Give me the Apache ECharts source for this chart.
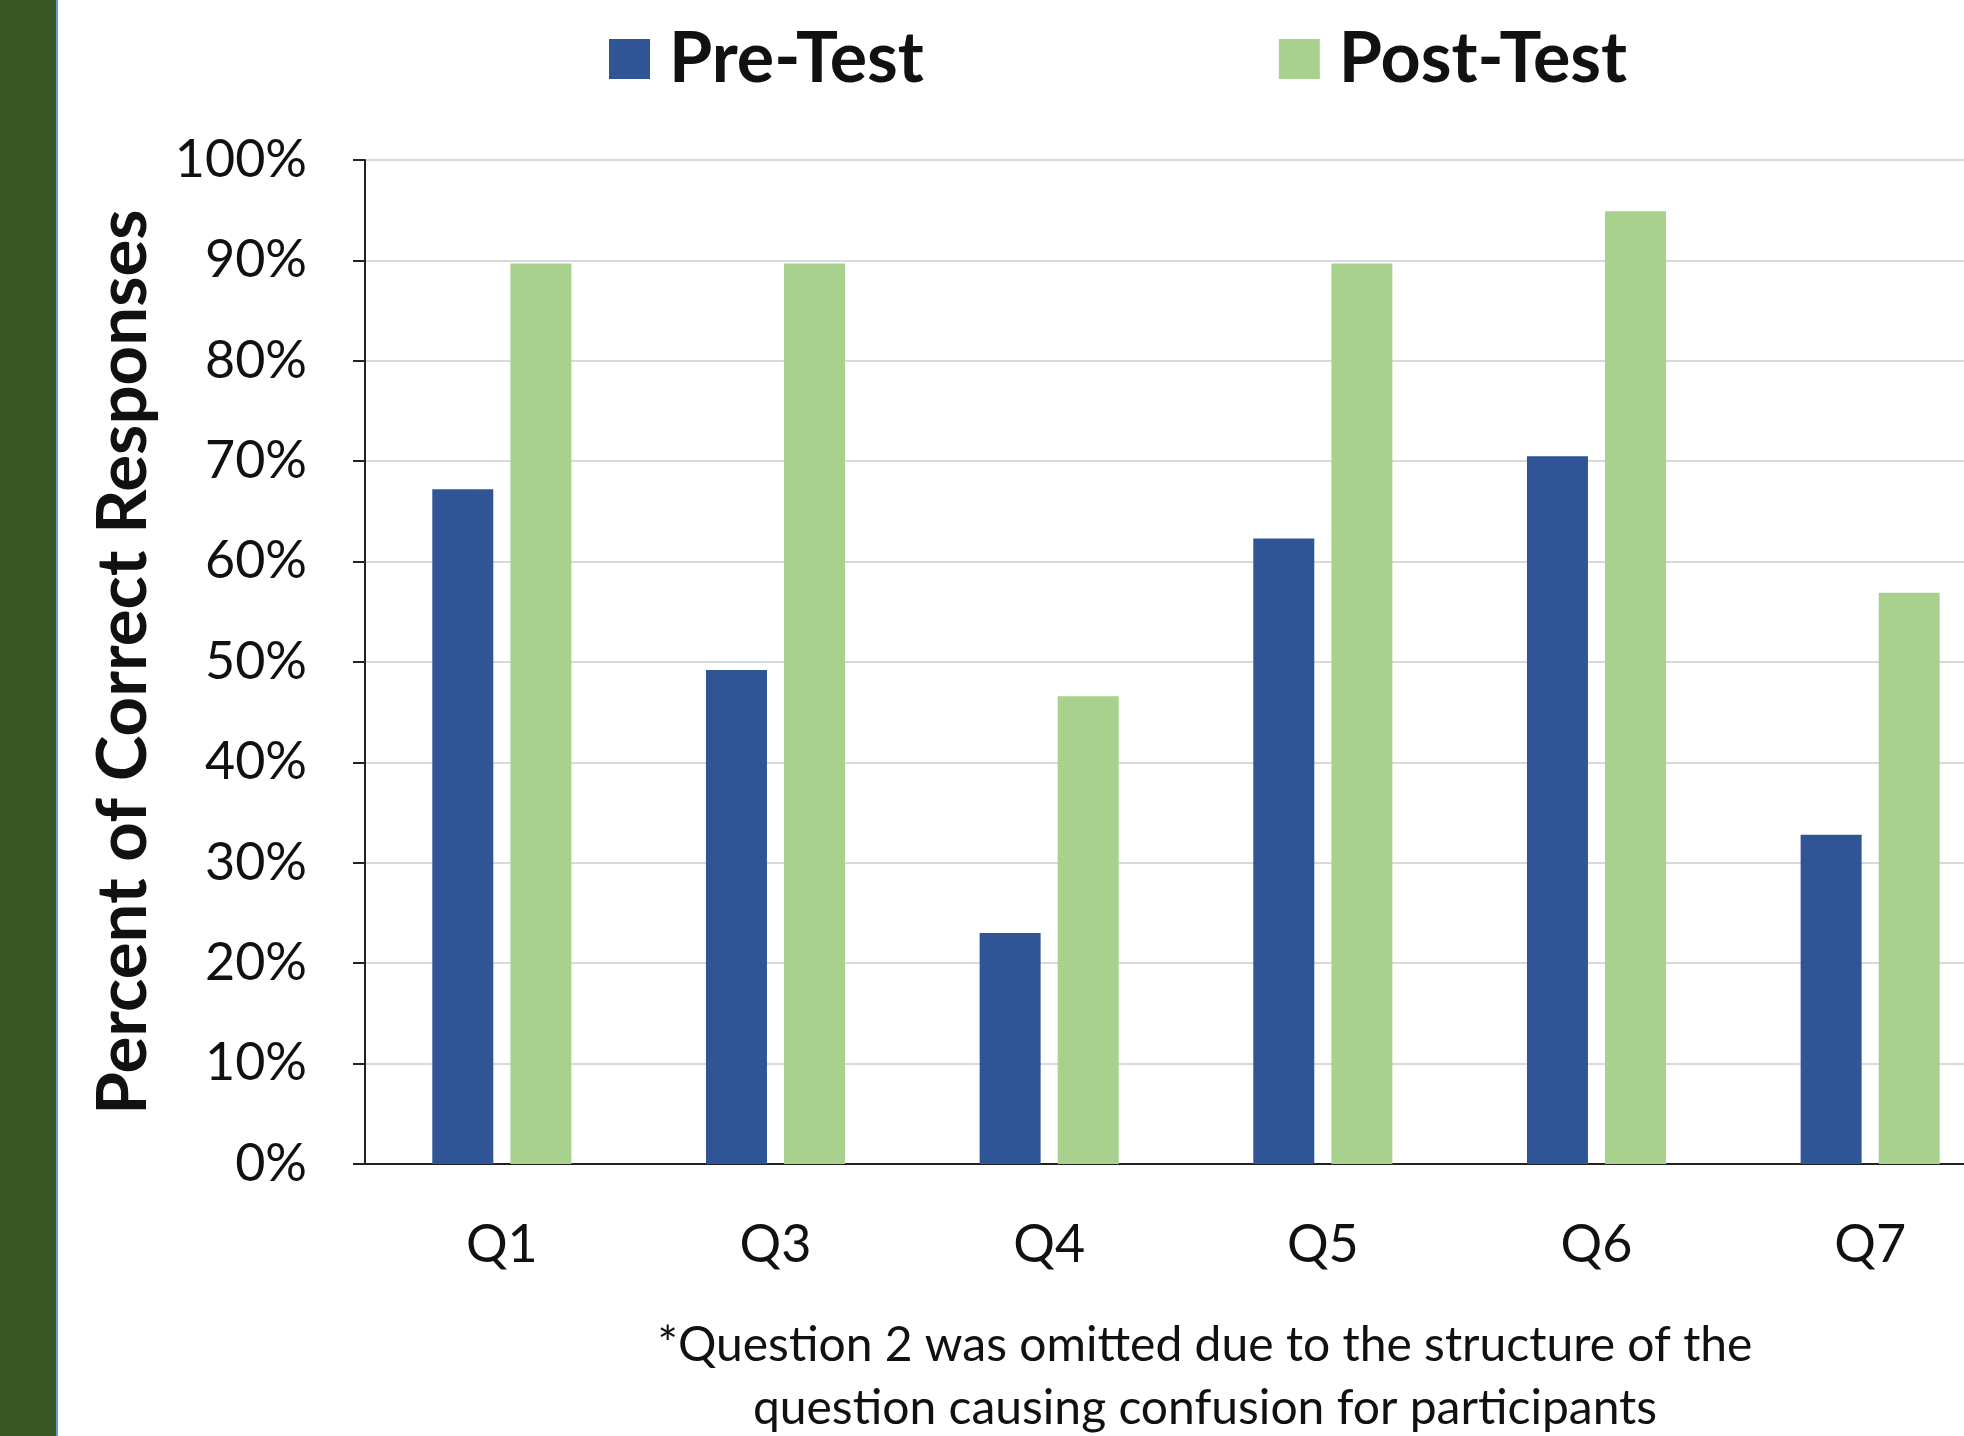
<!DOCTYPE html>
<html>
<head>
<meta charset="utf-8">
<style>
  html, body { margin: 0; padding: 0; background: #fff; }
  #chart { width: 1964px; height: 1436px; }
</style>
<script src="https://cdn.jsdelivr.net/npm/echarts@6/dist/echarts.min.js"></script>
</head>
<body>
<div id="chart"></div>
<script>
// question labels (Q2 left out, see note)
const questions = ["Q1", "Q3", "Q4", "Q5", "Q6", "Q7"];
// percent of correct responses
const preTest = [67.2, 49.2, 23.0, 62.3, 70.5, 32.8];
const postTest = [89.7, 89.7, 46.6, 89.7, 94.9, 56.9];
const yTicks = [0, 10, 20, 30, 40, 50, 60, 70, 80, 90, 100];
const note = "*Question 2 was omitted due to the structure of the\nquestion causing confusion for participants";

const font = "Lato, 'Noto Sans', sans-serif";

const chart = echarts.init(document.getElementById("chart"));
chart.setOption({
  animation: false,
  textStyle: { fontFamily: font },
  graphic: [
    { type: "rect", left: 0, top: 0, shape: { width: 56, height: 1436 }, style: { fill: "#385723" } },
    { type: "rect", left: 56, top: 0, shape: { width: 2, height: 1436 }, style: { fill: "#6A9BD1" } }
  ],
  title: {
    text: note,
    left: 1200,
    top: 1309,
    textAlign: "center",
    textStyle: { fontFamily: font, fontWeight: "normal", fontSize: 48, lineHeight: 63, color: "#111" }
  },
  legend: {
    left: 609,
    top: 24,
    padding: 0,
    itemWidth: 41,
    itemHeight: 40,
    itemGap: 355,
    icon: "rect",
    textStyle: { fontFamily: font, fontWeight: "bold", fontSize: 70, color: "#111", padding: [0, 0, 0, 14] },
    data: ["Pre-Test", "Post-Test"]
  },
  grid: {
    left: 365,
    top: 160,
    bottom: 272,
    right: -43,
    outerBoundsMode: "none"
  },
  xAxis: {
    type: "category",
    data: questions,
    axisLine: { lineStyle: { color: "#222", width: 2 } },
    axisTick: { alignWithLabel: true, length: 14, lineStyle: { color: "#222", width: 2 } },
    axisLabel: { margin: 55, fontSize: 52, color: "#111", fontFamily: font }
  },
  yAxis: {
    type: "value",
    min: yTicks[0],
    max: yTicks[yTicks.length - 1],
    interval: 10,
    name: "Percent of Correct Responses",
    nameLocation: "middle",
    nameRotate: 90,
    nameGap: 207,
    nameTextStyle: { fontFamily: font, fontWeight: "bold", fontSize: 69, color: "#111" },
    axisLine: { show: true, lineStyle: { color: "#222", width: 2 } },
    axisTick: { show: true, length: 12, lineStyle: { color: "#222", width: 2 } },
    axisLabel: { margin: 58, fontSize: 52, color: "#111", fontFamily: font, formatter: "{value}%" },
    splitLine: { lineStyle: { color: "#D9D9D9", width: 2 } }
  },
  series: [
    { name: "Pre-Test", type: "bar", data: preTest, barWidth: 61, barGap: "28%", itemStyle: { color: "#2F5597" } },
    { name: "Post-Test", type: "bar", data: postTest, barWidth: 61, itemStyle: { color: "#A9D18E" } }
  ]
});
</script>
</body>
</html>
